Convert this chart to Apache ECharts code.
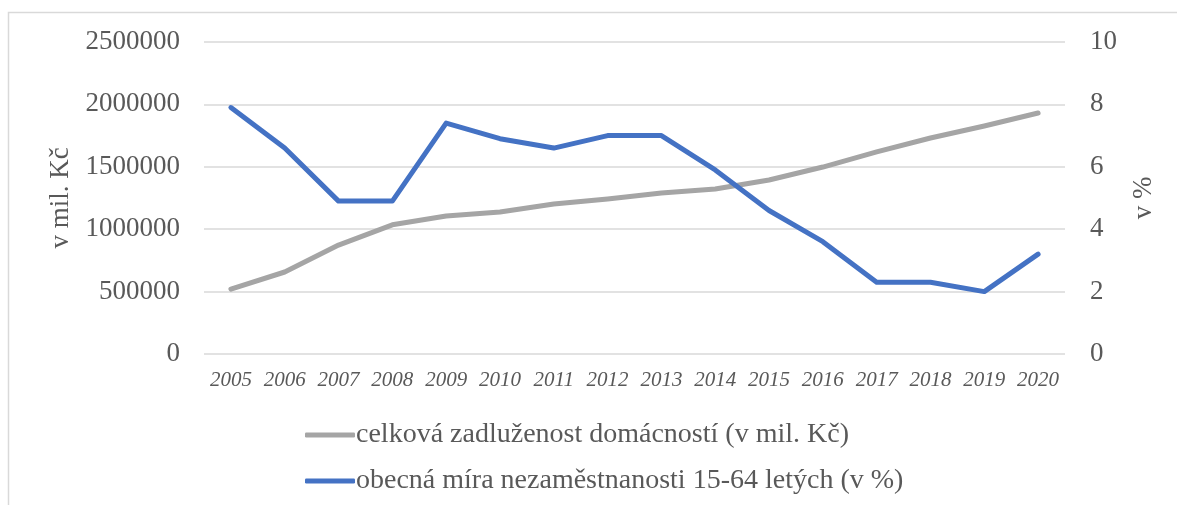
<!DOCTYPE html>
<html>
<head>
<meta charset="utf-8">
<script src="https://cdn.jsdelivr.net/npm/echarts@6/dist/echarts.min.js"></script>
<style>
  html, body { margin: 0; padding: 0; background: #fff; }
  #chart { width: 1177px; height: 505px; }
</style>
</head>
<body>
<div id="chart"></div>
<script>
// roky
var years = ['2005', '2006', '2007', '2008', '2009', '2010', '2011', '2012',
  '2013', '2014', '2015', '2016', '2017', '2018', '2019', '2020']
// celková zadluženost domácností (v mil. Kč)
var debt = [520000, 657000, 873000, 1035000, 1106000, 1138000, 1202000, 1242000,
  1290000, 1322000, 1394000, 1498000, 1619000, 1731000, 1827000, 1931000]
// obecná míra nezaměstnanosti 15-64 letých (v %)
var unemp = [7.9, 6.6, 4.9, 4.9, 7.4, 6.9, 6.6, 7.0,
  7.0, 5.9, 4.6, 3.6, 2.3, 2.3, 2.0, 3.2]

var debtName = 'celková zadluženost domácností (v mil. Kč)'
var unempName = 'obecná míra nezaměstnanosti 15-64 letých (v %)'

var serif = '"Liberation Serif", "DejaVu Serif", serif'
var textColor = '#595959'

var chart = echarts.init(document.getElementById('chart'))

var option = {
  backgroundColor: '#fff',
  animation: false,
  grid: {
    left: 204,
    right: 112,
    top: 42,
    bottom: 151,
    containLabel: false
  },
  graphic: [
    {
      type: 'rect',
      shape: { x: 8.5, y: 12.5, width: 1200, height: 600 },
      style: { fill: 'none', stroke: '#d9d9d9', lineWidth: 1.5 },
      silent: true
    }
  ],
  legend: {
    orient: 'vertical',
    left: 300,
    top: 416,
    itemWidth: 50,
    itemHeight: 5,
    itemGap: 18,
    icon: 'roundRect',
    textStyle: { fontFamily: serif, fontSize: 28, color: textColor, padding: [0, 0, 0, -4] },
    data: [debtName, unempName]
  },
  xAxis: {
    type: 'category',
    data: years,
    boundaryGap: true,
    axisLine: { show: false },
    axisTick: { show: false },
    axisLabel: {
      interval: 0,
      fontFamily: serif,
      fontStyle: 'italic',
      fontSize: 21,
      color: textColor,
      margin: 16
    }
  },
  yAxis: [
    {
      type: 'value',
      min: 0,
      max: 2500000,
      interval: 500000,
      name: 'v mil. Kč',
      nameLocation: 'middle',
      nameGap: 128,
      nameRotate: 90,
      nameTextStyle: { fontFamily: serif, fontSize: 27, color: textColor },
      axisLine: { show: false },
      axisTick: { show: false },
      axisLabel: {
        fontFamily: serif,
        fontSize: 27,
        color: textColor,
        margin: 24,
        formatter: function (v) { return String(v) }
      },
      splitLine: { lineStyle: { color: '#d9d9d9', width: 1.5 } }
    },
    {
      type: 'value',
      min: 0,
      max: 10,
      interval: 2,
      position: 'right',
      name: 'v %',
      nameLocation: 'middle',
      nameGap: 65,
      nameRotate: 90,
      nameTextStyle: { fontFamily: serif, fontSize: 27, color: textColor },
      axisLine: { show: false },
      axisTick: { show: false },
      axisLabel: { fontFamily: serif, fontSize: 27, color: textColor, margin: 25 },
      splitLine: { show: false }
    }
  ],
  series: [
    {
      name: debtName,
      type: 'line',
      yAxisIndex: 0,
      data: debt,
      showSymbol: false,
      symbol: 'none',
      lineStyle: { color: '#a5a5a5', width: 5, cap: 'round', join: 'round' },
      itemStyle: { color: '#a5a5a5' }
    },
    {
      name: unempName,
      type: 'line',
      yAxisIndex: 1,
      data: unemp,
      showSymbol: false,
      symbol: 'none',
      lineStyle: { color: '#4472c4', width: 5, cap: 'round', join: 'round' },
      itemStyle: { color: '#4472c4' }
    }
  ]
}

chart.setOption(option)
</script>
</body>
</html>
